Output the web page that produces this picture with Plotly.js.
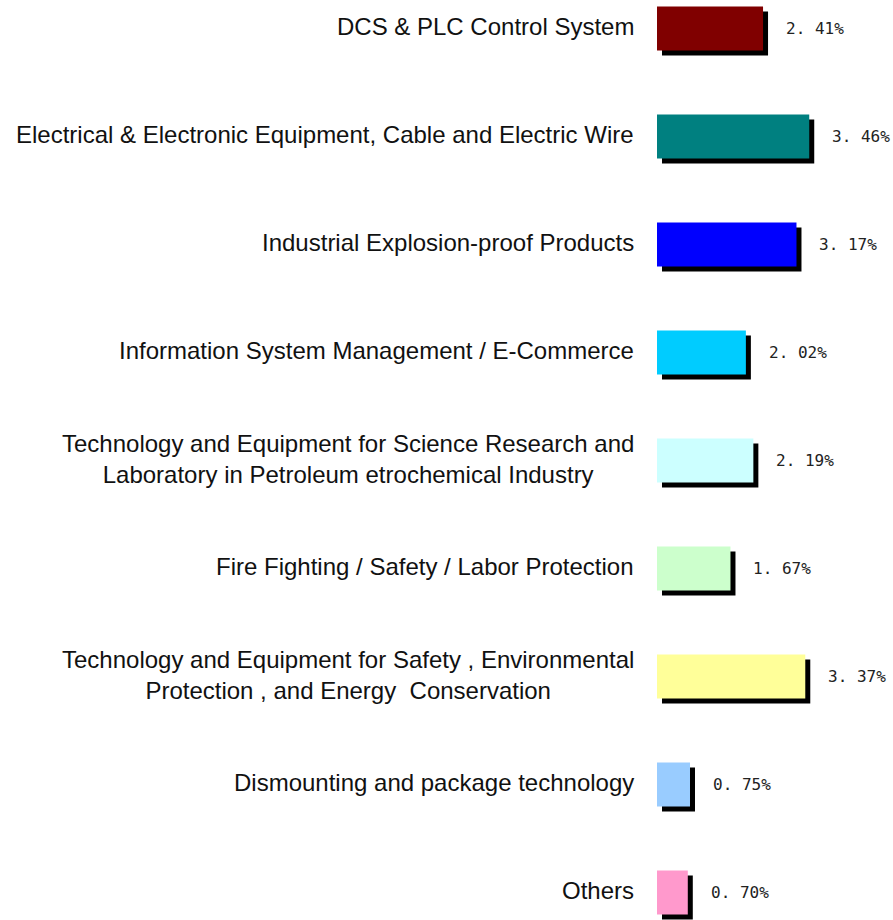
<!DOCTYPE html>
<html>
<head>
<meta charset="utf-8">
<script src="https://cdn.plot.ly/plotly-3.0.1.min.js"></script>
<style>html,body{margin:0;padding:0;background:#fff;}#chart{width:893px;height:920px;}</style>
</head>
<body>
<div id="chart"></div>
<script>
const categories = [
  "DCS & PLC Control System",
  "Electrical & Electronic Equipment, Cable and Electric Wire",
  "Industrial Explosion-proof Products",
  "Information System Management / E-Commerce",
  "Technology and Equipment for Science Research and<br>Laboratory in Petroleum etrochemical Industry",
  "Fire Fighting / Safety / Labor Protection",
  "Technology and Equipment for Safety , Environmental<br>Protection , and Energy  Conservation",
  "Dismounting and package technology",
  "Others"
];
const values = [2.41, 3.46, 3.17, 2.02, 2.19, 1.67, 3.37, 0.75, 0.70];
const valueLabels = ["2. 41%", "3. 46%", "3. 17%", "2. 02%", "2. 19%", "1. 67%", "3. 37%", "0. 75%", "0. 70%"];
const colors = ["#800000", "#008080", "#0000FF", "#00CCFF", "#CCFFFF", "#CCFFCC", "#FFFF99", "#99CCFF", "#FF99CC"];

const positions = categories.map((c, i) => i);

// pixel geometry helpers
const W = 893, H = 920;
const left = 657;             // x zero position (px)
const pxPerUnit = 44;
const rowPx = 108;
const firstRowPx = 28.5;
const barPx = 44;
const shadowDx = 5, shadowDy = 5;

const xMax = (W - left) / pxPerUnit;
const yTop = -firstRowPx / rowPx;
const yBottom = yTop + H / rowPx;
const barW = barPx / rowPx;

// shadow on primary axes (drawn first), shifted right/down
const shadow = {
  type: 'bar', orientation: 'h',
  x: values, y: positions,
  xaxis: 'x', yaxis: 'y',
  width: barW,
  marker: {color: '#000000', line: {width: 0}},
  hoverinfo: 'skip', showlegend: false
};
// coloured bars on overlaying axes (drawn on top)
const bars = {
  type: 'bar', orientation: 'h',
  x: values, y: positions,
  xaxis: 'x2', yaxis: 'y2',
  width: barW,
  marker: {color: colors, line: {width: 0}},
  hoverinfo: 'x', showlegend: false
};

const annotations = [];
categories.forEach((c, i) => {
  annotations.push({
    xref: 'x2', yref: 'y2', x: 0, y: positions[i],
    xanchor: 'right', yanchor: 'middle', align: 'center',
    xshift: -21, yshift: 2,
    text: c, showarrow: false,
    font: {family: 'Liberation Sans, Arial, sans-serif', size: 24, color: '#111'}
  });
  annotations.push({
    xref: 'x2', yref: 'y2', x: values[i], y: positions[i],
    xanchor: 'left', yanchor: 'middle',
    xshift: 21, yshift: 0,
    text: valueLabels[i], showarrow: false,
    font: {family: 'DejaVu Sans Mono, monospace', size: 16, color: '#222'}
  });
});

const axisOff = {showgrid: false, zeroline: false, showticklabels: false, showline: false, ticks: '', fixedrange: true};

const layout = {
  width: W, height: H,
  margin: {l: left, r: 0, t: 0, b: 0, pad: 0},
  paper_bgcolor: '#ffffff', plot_bgcolor: '#ffffff',
  barmode: 'overlay',
  xaxis: Object.assign({range: [-shadowDx / pxPerUnit, xMax - shadowDx / pxPerUnit]}, axisOff),
  yaxis: Object.assign({range: [yBottom - shadowDy / rowPx, yTop - shadowDy / rowPx]}, axisOff),
  xaxis2: Object.assign({range: [0, xMax], overlaying: 'x'}, axisOff),
  yaxis2: Object.assign({range: [yBottom, yTop], overlaying: 'y'}, axisOff),
  annotations: annotations
};

Plotly.newPlot('chart', [shadow, bars], layout, {displayModeBar: false, staticPlot: true});
</script>
</body>
</html>
